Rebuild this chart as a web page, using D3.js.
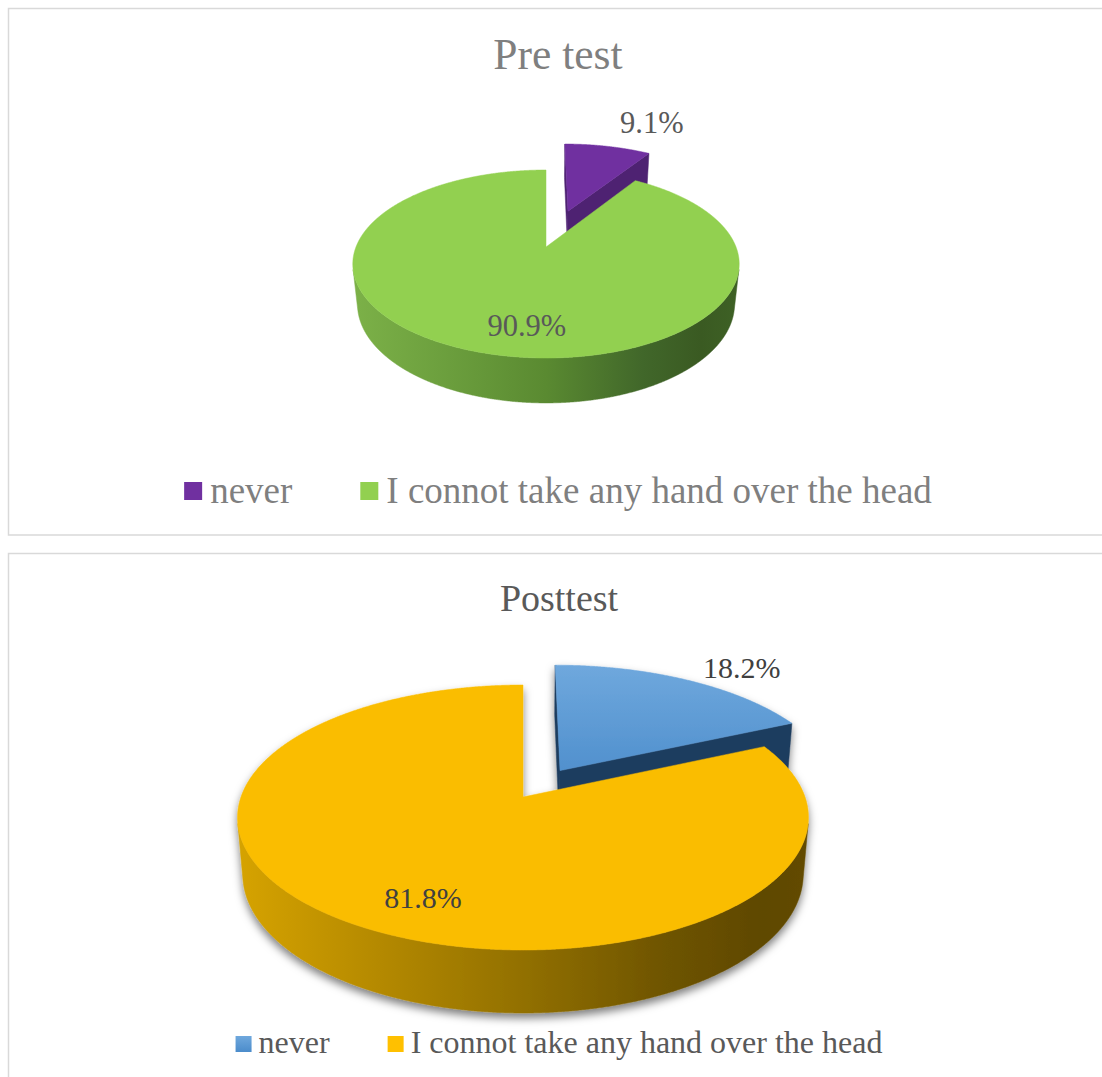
<!DOCTYPE html>
<html><head><meta charset="utf-8">
<script src="https://cdn.jsdelivr.net/npm/d3@7"></script>
<style>body{margin:0;background:#fff} svg{display:block}</style>
</head><body>
<svg id="c" width="1102" height="1077"></svg>
<script>
// ---------- DATA ----------
const categories = ["never", "I connot take any hand over the head"];
const preTestValues = [9.1, 90.9];
const postTestValues = [18.2, 81.8];
const chartTitles = ["Pre test", "Posttest"];

// ---------- LAYOUT / STYLE ----------
const FONT = "'Liberation Serif','Times New Roman',Times,serif";
const charts = [
  {
    title: chartTitles[0], values: preTestValues,
    panel: {x: 8.5, y: 8.5, w: 1100, h: 526.5},
    centerX: 558,
    cam: {cx: 546, cy: 247, f: 922.6, D: 4.855, phi: Math.asin(0.4785), H: 0.243},
    explode: [0.442, 0],
    topFill: ["#7030a0", "#92d050"],
    cutFill: ["#4e2272", "#5b8a33"],
    wallStops: [[0, "#7cb148"], [0.25, "#6b9e3d"], [0.5, "#5a8a31"], [0.75, "#41672a"], [0.9, "#3a5a22"], [1, "#3e6125"]],
    legendFill: ["#7030a0", "#92d050"],
    title_: {size: 43.5, color: "#7f7f7f", y: 69},
    label: {size: 30.5, color: "#595959", pos: [[23.9, 1.518], [186.6, 0.756]]},
    legend: {size: 37, color: "#7f7f7f", sq: 18, gap: 8, itemGap: 68, sqY: 482, baseY: 503},
    shadow: false
  },
  {
    title: chartTitles[1], values: postTestValues,
    panel: {x: 8.5, y: 553.5, w: 1100, h: 540},
    centerX: 559,
    cam: {cx: 523, cy: 797, f: 1620, D: 5.744, phi: Math.asin(0.4586), H: 0.228},
    explode: [0.2504, 0],
    topFill: ["url(#blueTop)", "#fabd00"],
    cutFill: ["#1f3d5e", "#a07a00"],
    wallStops: [[0, "#d6a300"], [0.25, "#b48900"], [0.5, "#927000"], [0.75, "#6e5400"], [0.92, "#5f4800"], [1, "#634b00"]],
    legendFill: ["url(#blueLeg)", "#ffc000"],
    title_: {size: 38, color: "#595959", y: 611},
    label: {size: 30, color: "#404040", pos: [[38.9, 1.245], [204.4, 0.765]]},
    legend: {size: 32, color: "#595959", sq: 16, gap: 7, itemGap: 58, sqY: 1036, baseY: 1053},
    shadow: true
  }
];

const svg = d3.select("#c");
const defs = svg.append("defs");
const sh = defs.append("filter").attr("id", "pieShadow")
  .attr("x", "-10%").attr("y", "-10%").attr("width", "120%").attr("height", "130%");
sh.append("feDropShadow").attr("dx", 0).attr("dy", 5).attr("stdDeviation", 4)
  .attr("flood-color", "#000").attr("flood-opacity", 0.5);

const bt = defs.append("linearGradient").attr("id", "blueTop").attr("gradientUnits", "userSpaceOnUse")
  .attr("x1", 0).attr("y1", 665).attr("x2", 0).attr("y2", 790);
bt.append("stop").attr("offset", 0).attr("stop-color", "#6fa8dd");
bt.append("stop").attr("offset", 1).attr("stop-color", "#4b8ccb");
const bl = defs.append("linearGradient").attr("id", "blueLeg").attr("x1", 0).attr("y1", 0).attr("x2", 0).attr("y2", 1);
bl.append("stop").attr("offset", 0).attr("stop-color", "#6fa8dd");
bl.append("stop").attr("offset", 1).attr("stop-color", "#4b8ccb");

const line = d3.line();

charts.forEach((ch, ci) => {
  // panel
  svg.append("rect").attr("x", ch.panel.x).attr("y", ch.panel.y)
    .attr("width", ch.panel.w).attr("height", ch.panel.h)
    .attr("fill", "#fff").attr("stroke", "#d9d9d9").attr("stroke-width", 1.5);

  // title
  svg.append("text").attr("x", ch.centerX).attr("y", ch.title_.y)
    .attr("text-anchor", "middle").attr("font-family", FONT)
    .attr("font-size", ch.title_.size).attr("fill", ch.title_.color).text(ch.title);

  const cam = ch.cam;
  const s = Math.sin(cam.phi), c = Math.cos(cam.phi);
  const proj = (X, Y, Z) => {
    const xc = X, yc = Y * s + Z * c, zc = cam.D + Y * c - Z * s;
    return [cam.cx + cam.f * xc / zc, cam.cy - cam.f * yc / zc];
  };
  const depth = (X, Y) => cam.D + Y * c;

  // wall gradient across full pie extent
  const ext = d3.extent(d3.range(0, 360.5, 0.5), a => proj(Math.sin(a * Math.PI / 180), Math.cos(a * Math.PI / 180), 0)[0]);
  const wg = defs.append("linearGradient").attr("id", "wall" + ci).attr("gradientUnits", "userSpaceOnUse")
    .attr("x1", ext[0]).attr("y1", 0).attr("x2", ext[1]).attr("y2", 0);
  ch.wallStops.forEach(st => wg.append("stop").attr("offset", st[0]).attr("stop-color", st[1]));

  const arcs = d3.pie().sort(null).startAngle(0).endAngle(2 * Math.PI)(ch.values);
  const slices = arcs.map((d, i) => {
    const mid = (d.startAngle + d.endAngle) / 2;
    const e = ch.explode[i];
    const off = [e * Math.sin(mid), e * Math.cos(mid)];
    const cen = [off[0] + 0.5 * Math.sin(mid), off[1] + 0.5 * Math.cos(mid)];
    return {d, i, off, mid, z: depth(cen[0], cen[1])};
  });
  slices.sort((a, b) => b.z - a.z);

  const g = svg.append("g");
  if (ch.shadow) g.attr("filter", "url(#pieShadow)");
  const H = cam.H;
  const camV = [0, -cam.D * c, cam.D * s];

  slices.forEach(sl => {
    const {d, i, off} = sl;
    const a0 = d.startAngle, a1 = d.endAngle;
    const sg = g.append("g");
    const rim = (a, Z) => proj(off[0] + Math.sin(a), off[1] + Math.cos(a), Z);
    // cut faces
    [[a0, [-Math.cos(a0), Math.sin(a0)]], [a1, [Math.cos(a1), -Math.sin(a1)]]].forEach(([a, n]) => {
      const dot = (camV[0] - off[0]) * n[0] + (camV[1] - off[1]) * n[1];
      if (dot > 1e-6) {
        const pts = [proj(off[0], off[1], 0), rim(a, 0), rim(a, -H), proj(off[0], off[1], -H)];
        sg.append("path").attr("d", line(pts) + "Z").attr("fill", ch.cutFill[i])
          .attr("stroke", ch.cutFill[i]).attr("stroke-width", 0.5);
      }
    });
    // outer wall (visible part)
    const n = Math.max(8, Math.ceil((a1 - a0) / (0.25 * Math.PI / 180)));
    const angs = d3.range(n + 1).map(k => a0 + (a1 - a0) * k / n);
    const vis = a => -cam.D * c * Math.cos(a) > 1 + off[0] * Math.sin(a) + off[1] * Math.cos(a);
    let seg = [];
    const segs = [];
    angs.forEach(a => { if (vis(a)) seg.push(a); else if (seg.length) { segs.push(seg); seg = []; } });
    if (seg.length) segs.push(seg);
    segs.forEach(sa => {
      if (sa.length < 2) return;
      const pts = sa.map(a => rim(a, 0)).concat(sa.slice().reverse().map(a => rim(a, -H)));
      sg.append("path").attr("d", line(pts) + "Z").attr("fill", "url(#wall" + ci + ")")
        .attr("stroke", "url(#wall" + ci + ")").attr("stroke-width", 0.5);
    });
    // top face
    const topPts = [proj(off[0], off[1], 0)].concat(angs.map(a => rim(a, 0)));
    sg.append("path").attr("d", line(topPts) + "Z").attr("fill", ch.topFill[i])
      .attr("stroke", ch.topFill[i]).attr("stroke-width", 0.5);
  });

  // data labels
  const fmt = v => d3.format(".1f")(v) + "%";
  arcs.forEach((d, i) => {
    const mid = (d.startAngle + d.endAngle) / 2;
    const e = ch.explode[i];
    const off = [e * Math.sin(mid), e * Math.cos(mid)];
    const [ad, r] = ch.label.pos[i];
    const a = ad * Math.PI / 180;
    const p = proj(off[0] + r * Math.sin(a), off[1] + r * Math.cos(a), 0);
    svg.append("text").attr("x", p[0]).attr("y", p[1]).attr("dy", "0.34em")
      .attr("text-anchor", "middle").attr("font-family", FONT)
      .attr("font-size", ch.label.size).attr("fill", ch.label.color).text(fmt(d.data));
  });

  // legend
  const L = ch.legend;
  const lg = svg.append("g");
  const items = categories.map((cat, i) => {
    const t = lg.append("text").attr("y", L.baseY).attr("font-family", FONT)
      .attr("font-size", L.size).attr("fill", L.color).text(cat);
    return {t, w: t.node().getComputedTextLength(), i};
  });
  const total = d3.sum(items, it => L.sq + L.gap + it.w) + L.itemGap * (items.length - 1);
  let x = ch.centerX - total / 2;
  items.forEach(it => {
    lg.append("rect").attr("x", x).attr("y", L.sqY).attr("width", L.sq).attr("height", L.sq)
      .attr("fill", ch.legendFill[it.i]);
    it.t.attr("x", x + L.sq + L.gap);
    x += L.sq + L.gap + it.w + L.itemGap;
  });
});
</script>
</body></html>
